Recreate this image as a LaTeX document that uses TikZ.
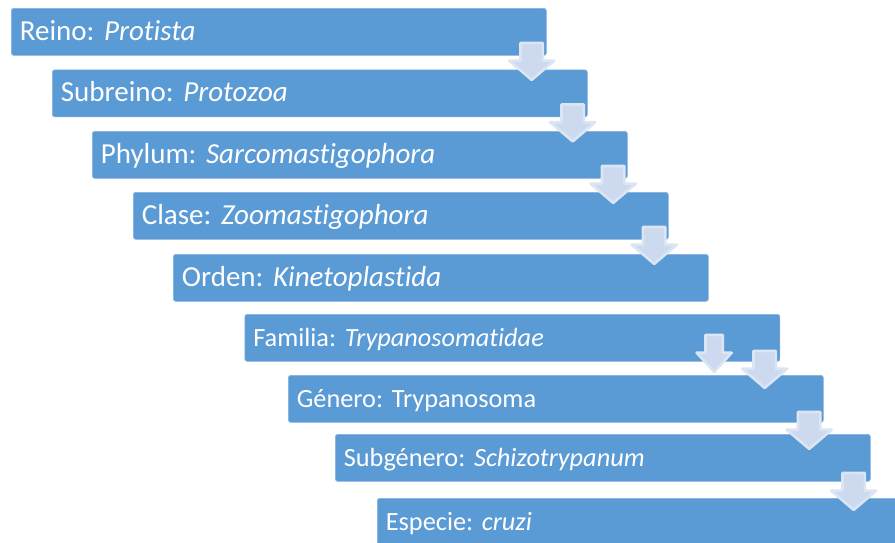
\documentclass[tikz,border=0pt]{standalone}
\usepackage{fontspec}
\setmainfont{Carlito}[Ligatures=NoCommon]
\usetikzlibrary{calc}
\definecolor{boxblue}{HTML}{5B9BD5}
\definecolor{boxedge}{HTML}{84B3E0}
\definecolor{arrfill}{HTML}{CCD9EE}
\definecolor{arredge}{HTML}{DCE5F3}
\frenchspacing
\begin{document}
\begin{tikzpicture}[x=1pt,y=-1pt,
  taxbox/.style={fill=boxblue, draw=boxedge, line width=0.7pt, rounded corners=2.5pt,
    minimum width=535pt, minimum height=47pt, anchor=north west,
    inner xsep=8.5pt, inner ysep=0pt, text width=518pt, align=left,
    text=white, font=\fontsize{29}{33}\selectfont\frenchspacing, text height=20pt, text depth=3pt},
  smallbox/.style={taxbox, minimum width=532pt, font=\fontsize{26.3}{30}\selectfont\frenchspacing},
  arrowshape/.style={fill=arrfill, draw=arredge, line width=2.6pt, line join=round},
  dnarrow/.pic={\path[arrowshape] (-11.2,1.3) -- (11.2,1.3) -- (11.2,19) -- (22.5,19)
      -- (0,38.2) -- (-22.5,19) -- (-11.2,19) -- cycle;}]
\useasboundingbox[fill=white] (0,0) rectangle (895,542);
\node[taxbox] (b1) at (11,8)    {Reino: \textit{Protista}};
\node[taxbox] (b2) at (52,69.5) {Subreino: \textit{Protozoa}};
\node[taxbox] (b3) at (92,131)  {Phylum: \textit{Sarcomastigophora}};
\node[taxbox] (b4) at (133,192) {Clase: \textit{Zoomastigophora}};
\node[taxbox] (b5) at (173,254) {Orden: \textit{Kinetoplastida}};
\node[smallbox] (b6) at (244.5,314) {Familia: \textit{Trypanosomatidae}};
\node[smallbox] (b7) at (288,375)   {Género: Trypanosoma};
\node[smallbox] (b8) at (335,434)   {Subgénero: \textit{Schizotrypanum}};
\node[smallbox] (b9) at (377,498)   {Especie: \textit{cruzi}};
\pic at ($(b1.south east)+(-15,-14)$) {dnarrow};
\pic at ($(b2.south east)+(-15,-14)$) {dnarrow};
\pic at ($(b3.south east)+(-14.5,-14)$) {dnarrow};
\pic at ($(b4.south east)+(-14.5,-14)$) {dnarrow};
\pic[xscale=0.78] at ($(b6.south east)+(-66,-28)$) {dnarrow};
\pic at ($(b6.south east)+(-15.5,-12)$) {dnarrow};
\pic at ($(b7.south east)+(-14.5,-12)$) {dnarrow};
\pic at ($(b8.south east)+(-17,-10)$) {dnarrow};
\end{tikzpicture}
\end{document}
